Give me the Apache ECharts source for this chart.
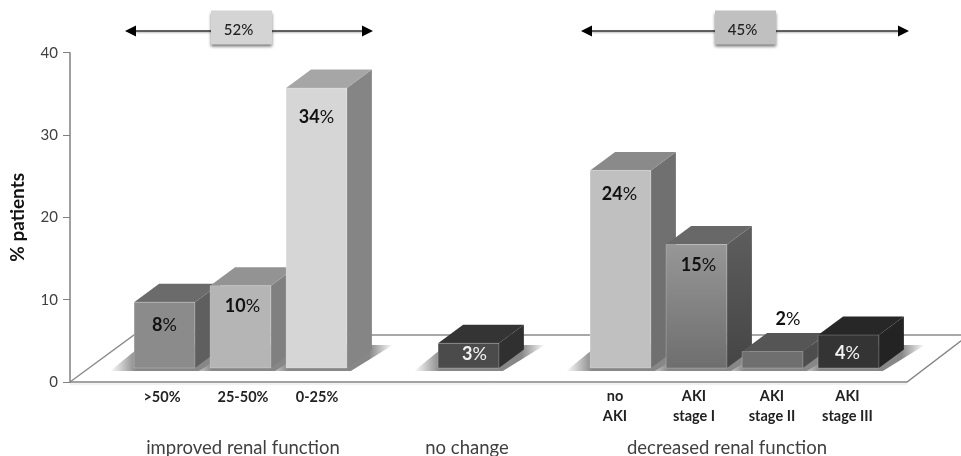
<!DOCTYPE html>
<html>
<head>
<meta charset="utf-8">
<style>
  html, body { margin: 0; padding: 0; background: #fff; }
  #chart { width: 961px; height: 456px; }
</style>
<script src="https://cdn.jsdelivr.net/npm/echarts@6/dist/echarts.min.js"></script>
</head>
<body>
<div id="chart"></div>
<script>
// Change in renal function, % of patients per category
const categories = ['>50%', '25-50%', '0-25%', '', '', '', 'no\nAKI', 'AKI\nstage I', 'AKI\nstage II', 'AKI\nstage III'];
const values = [8, 10, 34, null, 3, null, 24, 15, 2, 4];
const yTicks = [0, 10, 20, 30, 40];

// Shades of each block: front, top and side faces
const frontShades = ['#8b8b8b', '#b5b5b5', '#d6d6d6', null, '#4b4b4b', null, '#c0c0c0', ['#979797', '#6e6e6e'], '#6f6f6f', '#343434'];
const topShades = ['#6b6b6b', '#939393', '#a6a6a6', null, '#343434', null, '#8a8a8a', '#686868', '#555555', '#272727'];
const sideShades = ['#5f5f5f', '#808080', '#858585', null, '#303030', null, '#707070', ['#5e5e5e', '#454545'], '#4d4d4d', '#232323'];

// Value labels: vertical distance from the block's top edge, and colour
const labelDrop = [23, 21, 29, null, 11, null, 24, 21, null, 18];
const labelRise = [null, null, null, null, null, null, null, null, 32, null];
const labelNudge = [0, 2, 0, null, 6, null, -1, 2, 15.5, -1];
const labelInk = ['#111', '#111', '#111', null, '#f2f2f2', null, '#111', '#111', '#111', '#f2f2f2'];

// Horizontal shift of the category captions relative to their slot
const captionNudge = [-2.5, 2.5, 0.5, 0, 0, 0, -5.5, -2.5, -0.5, -1];

const groups = [
  { name: 'improved renal function', x: 243 },
  { name: 'no change', x: 467 },
  { name: 'decreased renal function', x: 727 }
];
const spans = [
  { text: '52%', from: 125, to: 373, box: 211, fill: '#d4d4d4' },
  { text: '45%', from: 581, to: 909, box: 715, fill: '#c0c0c0' }
];

const FONT = 'Lato, "Open Sans", sans-serif';
const DEPTH_X = 25, DEPTH_Y = 18.5, FLOOR_LIFT = 14, BAR_RATIO = 0.8;
const AXIS_X = 70, FLOOR_Y = 382, FLOOR_BACK_Y = 335, FLOOR_RIGHT = 907;

const points = values.map((v, i) => [i, v]).filter(p => p[1] !== null);

function paint(shade) {
  if (Array.isArray(shade)) {
    return new echarts.graphic.LinearGradient(0, 0, 0, 1, [
      { offset: 0, color: shade[0] }, { offset: 1, color: shade[1] }
    ]);
  }
  return shade;
}

// Soft shadow each block casts on the floor
function renderShadow(params, api) {
  const i = api.value(0);
  const c = api.coord([i, 0]);
  const w = api.size([1, 0])[0] * BAR_RATIO;
  const x0 = c[0] - w / 2, x1 = c[0] + w / 2, base = c[1] - FLOOR_LIFT;
  return {
    type: 'polygon',
    shape: { points: [[x0 - 24, base + 3], [x1 + 4, base + 3], [x1 + 46, base - 23], [x0 + 8, base - 23]] },
    style: {
      fill: new echarts.graphic.LinearGradient(0, 0, 1, 0, [
        { offset: 0, color: 'rgba(135,135,135,0)' },
        { offset: 0.2, color: 'rgba(135,135,135,1)' },
        { offset: 0.82, color: 'rgba(135,135,135,1)' },
        { offset: 1, color: 'rgba(135,135,135,0)' }
      ])
    }
  };
}

// One block: front, top and side faces plus its value label
function renderBlock(params, api) {
  const i = api.value(0), v = api.value(1);
  const top = api.coord([i, v]);
  const bottom = api.coord([i, 0]);
  const w = api.size([1, 0])[0] * BAR_RATIO;
  const x0 = top[0] - w / 2, x1 = top[0] + w / 2;
  const yTop = top[1] - FLOOR_LIFT, yBase = bottom[1] - FLOOR_LIFT;
  const children = [
    { type: 'polygon', shape: { points: [[x1, yTop], [x1 + DEPTH_X, yTop - DEPTH_Y], [x1 + DEPTH_X, yBase - DEPTH_Y], [x1, yBase]] },
      style: { fill: paint(sideShades[i]) } },
    { type: 'polygon', shape: { points: [[x0, yTop], [x0 + DEPTH_X, yTop - DEPTH_Y], [x1 + DEPTH_X, yTop - DEPTH_Y], [x1, yTop]] },
      style: { fill: topShades[i] } },
    { type: 'rect', shape: { x: x0, y: yTop, width: w, height: yBase - yTop },
      style: { fill: paint(frontShades[i]), stroke: 'rgba(255,255,255,0.22)', lineWidth: 1 } }
  ];
  const labelY = labelRise[i] !== null ? yTop - labelRise[i] : yTop + labelDrop[i];
  children.push({
    type: 'text',
    style: {
      text: '{n|' + v + '}{p|%}',
      x: top[0] + labelNudge[i], y: labelY,
      align: 'center', verticalAlign: 'middle',
      rich: {
        n: { fontFamily: FONT, fontSize: 18, fontWeight: 'bold', fill: labelInk[i], color: labelInk[i] },
        p: { fontFamily: FONT, fontSize: 18, fill: labelInk[i], color: labelInk[i] }
      }
    }
  });
  return { type: 'group', children };
}

function formatCaption(value, index) {
  if (!value) return '';
  const tag = 'c' + index;
  const lines = value.split('\n');
  return lines.map(l => '{' + tag + (lines.length === 1 ? 's' : '') + '|' + l + '}').join('\n');
}

const captionRich = {};
categories.forEach((c, i) => {
  const n = captionNudge[i];
  const side = [0, n < 0 ? -2 * n : 0, 0, n > 0 ? 2 * n : 0];
  const base = { fontFamily: FONT, fontSize: 14.5, fontWeight: 'bold', color: '#222', lineHeight: 20 };
  captionRich['c' + i] = Object.assign({ padding: side }, base);
  captionRich['c' + i + 's'] = Object.assign({ padding: [3, side[1], 0, side[3]] }, base);
});

const graphicItems = [
  // Floor outline of the perspective plot area
  { type: 'polyline', z: -1, shape: { points: [[AXIS_X, FLOOR_Y], [AXIS_X + 64, FLOOR_BACK_Y], [970, FLOOR_BACK_Y]] },
    style: { stroke: '#8c8c8c', lineWidth: 1.5, fill: null } },
  { type: 'polyline', z: -1, shape: { points: [[AXIS_X, FLOOR_Y], [FLOOR_RIGHT, FLOOR_Y], [970, FLOOR_Y - 48]] },
    style: { stroke: '#858585', lineWidth: 1.5, fill: null } },
  { type: 'line', z: -1, shape: { x1: AXIS_X, y1: FLOOR_Y + 2, x2: FLOOR_RIGHT, y2: FLOOR_Y + 2 },
    style: { stroke: '#e4e4e4', lineWidth: 1 } }
];

groups.forEach(g => graphicItems.push({
  type: 'text', x: g.x, y: 448,
  style: { text: g.name, fontFamily: FONT, fontSize: 18.5, fill: '#404040', align: 'center', verticalAlign: 'middle' }
}));

spans.forEach(s => {
  const y = 31, head = 11, half = 5.5, boxW = 61;
  graphicItems.push(
    { type: 'line', shape: { x1: s.from + head, y1: y, x2: s.to - head, y2: y },
      style: { stroke: '#333', lineWidth: 1.5, shadowColor: 'rgba(0,0,0,0.35)', shadowBlur: 2, shadowOffsetY: 1 } },
    { type: 'polygon', shape: { points: [[s.from, y], [s.from + head, y - half], [s.from + head, y + half]] }, style: { fill: '#000' } },
    { type: 'polygon', shape: { points: [[s.to, y], [s.to - head, y - half], [s.to - head, y + half]] }, style: { fill: '#000' } },
    { type: 'rect', shape: { x: s.box, y: 10.5, width: boxW, height: 34 },
      style: { fill: s.fill, shadowColor: 'rgba(0,0,0,0.55)', shadowBlur: 3, shadowOffsetY: 2 } },
    { type: 'text', x: s.box + boxW / 2 - 3, y: 30,
      style: { text: s.text, fontFamily: FONT, fontSize: 15, fontWeight: 500, fill: '#222', align: 'center', verticalAlign: 'middle' } }
  );
});

const chart = echarts.init(document.getElementById('chart'), null, { renderer: 'canvas' });
chart.setOption({
  animation: false,
  backgroundColor: '#fff',
  grid: { left: 126.5, width: 760, top: 52.7, bottom: 74, containLabel: false, outerBoundsMode: 'none' },
  xAxis: {
    type: 'category',
    data: categories,
    axisLine: { show: false },
    axisTick: { show: false },
    splitLine: { show: false },
    axisLabel: { interval: 0, margin: 4, formatter: formatCaption, rich: captionRich, hideOverlap: false, verticalAlign: 'top' }
  },
  yAxis: {
    type: 'value',
    min: yTicks[0],
    max: yTicks[yTicks.length - 1],
    interval: yTicks[1] - yTicks[0],
    offset: 56.5,
    name: '% patients',
    nameLocation: 'middle',
    nameRotate: 90,
    nameGap: 43,
    nameTextStyle: { fontFamily: FONT, fontSize: 19, fontWeight: 'bold', color: '#111' },
    axisLine: { show: true, onZero: false, lineStyle: { color: '#808080', width: 1.5 } },
    axisTick: { show: true, length: 7, lineStyle: { color: '#808080', width: 1 } },
    axisLabel: { fontFamily: FONT, fontSize: 15, color: '#404040', margin: 12, padding: [4, 0, 0, 0] },
    splitLine: { show: false }
  },
  graphic: graphicItems,
  series: [
    { type: 'custom', name: 'floor shadow', data: points, renderItem: renderShadow, clip: false, silent: true, z: 1 },
    { type: 'custom', name: '% patients', data: points, renderItem: renderBlock, clip: false, z: 2 }
  ]
});
</script>
</body>
</html>
